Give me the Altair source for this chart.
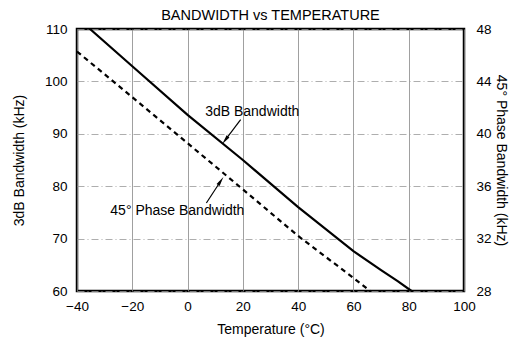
import altair as alt
import pandas as pd

# 3dB bandwidth (left axis, kHz)
bw3_temp = [-35.3, -20, 0, 20, 40, 60, 70, 76, 81]
bw3_val = [110, 102.9, 93.6, 85.0, 76.0, 67.6, 64.0, 61.9, 60]

# 45 deg phase bandwidth (right axis, kHz)
ph_temp = [-40, -20, 0, 20, 40, 60, 66]
ph_val = [46.28, 42.8, 39.28, 35.76, 32.2, 29.0, 28.0]

# annotations (in data coordinates of left axis)
ann_text = ["3dB Bandwidth", "45° Phase Bandwidth"]
ann_tx = [23.4, -3.7]
ann_ty = [94.2, 75.2]
arr_x1 = [19.2, 6.8]
arr_y1 = [92.7, 76.8]
arr_x2 = [13.6, 12.0]
arr_y2 = [88.8, 81.0]
head_x = [13.6, 12.0]
head_y = [88.8, 81.0]
head_angle = [217, 34]

FONT = "Liberation Sans"
TXT = 14
TICK = 13.5

df3 = pd.DataFrame({"t": bw3_temp, "v": bw3_val})
dfp = pd.DataFrame({"t": ph_temp, "v": ph_val})
dfa = pd.DataFrame({"text": ann_text, "tx": ann_tx, "ty": ann_ty,
                    "x1": arr_x1, "y1": arr_y1, "x2": arr_x2, "y2": arr_y2,
                    "hx": head_x, "hy": head_y, "ang": head_angle})

xs = alt.Scale(domain=[-40, 100], nice=False, zero=False)
yl = alt.Scale(domain=[60, 110], nice=False, zero=False)
yr = alt.Scale(domain=[28, 48], nice=False, zero=False)

xaxis = alt.Axis(title="Temperature (°C)", values=list(range(-40, 101, 20)),
                 grid=True, gridColor="#888888", gridWidth=0.8, ticks=False,
                 domain=False, labelPadding=8, titlePadding=10,
                 labelFontSize=TICK, titleFontSize=TXT, labelColor="black",
                 titleColor="black", titleFontWeight="normal", labelFont=FONT,
                 titleFont=FONT, labelFlush=False)

solid = alt.Chart(df3).mark_line(color="black", strokeWidth=2.2, clip=True).encode(
    x=alt.X("t:Q", scale=xs, axis=xaxis),
    y=alt.Y("v:Q", scale=yl, axis=alt.Axis(
        title="3dB Bandwidth (kHz)", values=list(range(60, 111, 10)), grid=True,
        gridColor="#999999", gridWidth=0.8, gridDash=[7, 3, 1, 3], ticks=False,
        domain=False, labelPadding=10, titlePadding=18, labelFontSize=TICK,
        titleFontSize=TXT, labelColor="black", titleColor="black",
        titleFontWeight="normal", labelFont=FONT, titleFont=FONT)),
)

ann_text_layer = alt.Chart(dfa).mark_text(fontSize=TXT, font=FONT, color="black").encode(
    x=alt.X("tx:Q", scale=xs), y=alt.Y("ty:Q", scale=yl), text="text:N")
ann_rule = alt.Chart(dfa).mark_rule(color="black", strokeWidth=1.2).encode(
    x=alt.X("x1:Q", scale=xs), y=alt.Y("y1:Q", scale=yl),
    x2="x2:Q", y2="y2:Q")
ann_head = alt.Chart(dfa).mark_point(
    shape="M0,-1L0.38,1L-0.38,1Z", filled=True, color="black", size=90, opacity=1
).encode(x=alt.X("hx:Q", scale=xs), y=alt.Y("hy:Q", scale=yl),
         angle=alt.Angle("ang:Q", scale=None))

left = alt.layer(solid, ann_rule, ann_head, ann_text_layer)

dashed = alt.Chart(dfp).mark_line(color="black", strokeWidth=2.2, strokeDash=[5, 4],
                                  clip=True).encode(
    x=alt.X("t:Q", scale=xs),
    y=alt.Y("v:Q", scale=yr, axis=alt.Axis(
        orient="right", title="45° Phase Bandwidth (kHz)",
        values=list(range(28, 49, 4)), grid=False, ticks=False, domain=False,
        labelPadding=12, titlePadding=2, labelFontSize=TICK, titleFontSize=TXT,
        labelColor="black", titleColor="black", titleFontWeight="normal",
        labelFont=FONT, titleFont=FONT)),
)

chart = alt.layer(left, dashed).resolve_scale(y="independent").properties(
    width=387, height=262,
    title=alt.TitleParams("BANDWIDTH vs TEMPERATURE", fontSize=14.5, font=FONT,
                          fontWeight="normal", color="black", anchor="middle",
                          offset=-1),
    autosize=alt.AutoSizeParams(type="none"),
    padding={"left": 69, "top": 21, "right": 45, "bottom": 50},
    background="white",
).configure_view(stroke="black", strokeWidth=2.5)

chart.save("out.html", embed_options={"renderer": "svg", "actions": False})
